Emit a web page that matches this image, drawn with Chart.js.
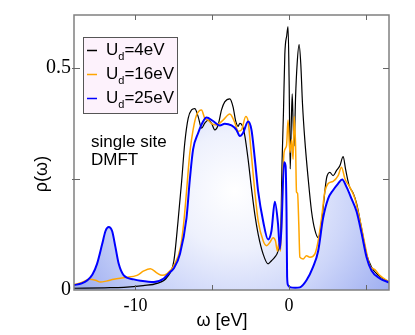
<!DOCTYPE html>
<html>
<head>
<meta charset="utf-8">
<script src="https://cdn.jsdelivr.net/npm/chart.js@4.4.0/dist/chart.umd.min.js"></script>
<style>
html,body{margin:0;padding:0;background:#fff;}
#wrap{width:415px;height:335px;position:relative;}
</style>
</head>
<body>
<div id="wrap"><canvas id="c" width="415" height="335"></canvas></div>
<script>
// ---- data ----
const seriesLabels = ["U_d=4eV", "U_d=16eV", "U_d=25eV"];
const xTickValues = [-10, -5, 0, 5];
const xTickLabels = ["-10", "", "0", ""];
const yTickValues = [0, 0.25, 0.5];
const yTickLabels = ["0", "", "0.5"];

const omegaBlack = [-14.0,-12.0,-10.76,-9.5,-8.59,-7.94,-7.5,-7.23,-7.0,-6.79,-6.57,-6.35,-6.14,-5.92,-5.7,-5.49,-5.27,-5.05,-4.84,-4.62,-4.4,-4.19,-3.86,-3.65,-3.47,-3.32,-3.21,-3.03,-2.88,-2.67,-2.45,-2.23,-2.01,-1.69,-1.37,-1.15,-0.93,-0.72,-0.54,-0.46,-0.37,-0.28,-0.15,-0.07,0.0,0.07,0.11,0.2,0.26,0.33,0.42,0.52,0.65,0.76,0.87,1.02,1.24,1.46,1.67,1.89,2.04,2.21,2.43,2.65,2.86,3.08,3.3,3.52,3.67,3.9,4.17,4.39,4.71,5.04,5.36,5.8,6.5];
const rhoBlack   = [0.004,0.005,0.006,0.01,0.015,0.029,0.066,0.155,0.243,0.332,0.387,0.406,0.409,0.391,0.365,0.376,0.383,0.376,0.361,0.372,0.406,0.424,0.431,0.413,0.38,0.369,0.376,0.369,0.347,0.295,0.229,0.17,0.125,0.081,0.059,0.066,0.074,0.088,0.14,0.288,0.398,0.531,0.575,0.594,0.472,0.273,0.325,0.442,0.376,0.325,0.435,0.509,0.553,0.509,0.42,0.339,0.251,0.177,0.136,0.118,0.133,0.184,0.251,0.265,0.258,0.269,0.28,0.301,0.273,0.236,0.218,0.195,0.14,0.081,0.052,0.033,0.018];

const omegaOrange = [-14.0,-13.5,-13.0,-12.6,-12.28,-11.9,-11.41,-10.65,-9.9,-9.46,-9.03,-8.59,-8.27,-7.94,-7.5,-7.07,-6.86,-6.68,-6.46,-6.25,-6.03,-5.7,-5.49,-5.27,-5.05,-4.73,-4.3,-3.86,-3.54,-3.32,-3.1,-2.82,-2.67,-2.45,-2.23,-2.01,-1.69,-1.47,-1.26,-1.04,-0.89,-0.76,-0.67,-0.56,-0.46,-0.33,-0.17,-0.07,0.05,0.16,0.26,0.33,0.42,0.48,0.55,0.63,0.7,0.91,1.13,1.35,1.67,1.89,2.11,2.32,2.54,2.86,3.19,3.41,3.63,3.95,4.28,4.6,4.93,5.25,5.58,5.9,6.5];
const rhoOrange   = [0.012,0.017,0.024,0.022,0.018,0.02,0.024,0.028,0.033,0.043,0.048,0.038,0.033,0.037,0.055,0.096,0.151,0.221,0.31,0.361,0.394,0.406,0.387,0.383,0.375,0.372,0.383,0.397,0.378,0.358,0.361,0.391,0.38,0.302,0.221,0.155,0.111,0.1,0.107,0.118,0.111,0.088,0.104,0.088,0.192,0.31,0.325,0.383,0.31,0.339,0.295,0.391,0.325,0.221,0.218,0.148,0.074,0.07,0.077,0.074,0.081,0.111,0.162,0.221,0.24,0.245,0.258,0.277,0.251,0.232,0.206,0.159,0.103,0.055,0.046,0.033,0.018];

const omegaBlue = [-14.0,-13.5,-13.13,-12.8,-12.5,-12.17,-11.95,-11.74,-11.52,-11.3,-11.09,-10.76,-10.11,-9.67,-8.8,-8.16,-7.76,-7.5,-7.1,-6.68,-6.46,-6.25,-5.92,-5.6,-5.38,-4.95,-4.51,-4.19,-3.75,-3.43,-3.21,-3.0,-2.67,-2.45,-2.23,-2.01,-1.69,-1.37,-1.15,-0.93,-0.72,-0.6,-0.5,-0.33,-0.23,-0.17,-0.13,-0.07,0.1,0.4,0.7,1.13,1.56,1.89,2.21,2.54,2.86,3.19,3.45,3.74,4.06,4.39,4.71,5.04,5.36,5.9,6.5];
const rhoBlue   = [0.011,0.015,0.022,0.035,0.059,0.103,0.133,0.142,0.133,0.096,0.059,0.033,0.024,0.021,0.018,0.026,0.04,0.049,0.082,0.162,0.25,0.317,0.354,0.38,0.389,0.381,0.371,0.375,0.371,0.361,0.347,0.354,0.38,0.361,0.295,0.221,0.155,0.114,0.133,0.199,0.148,0.092,0.14,0.288,0.28,0.177,0.03,0.011,0.006,0.005,0.006,0.022,0.052,0.088,0.162,0.206,0.225,0.24,0.249,0.232,0.206,0.177,0.129,0.074,0.044,0.026,0.017];

const seriesColors = ["#000000", "#ffa500", "#0000ff"];

function pts(xs, ys){ return xs.map((x,i)=>({x:x, y:ys[i]})); }

function fillGradient(context){
  const chart = context.chart;
  const ca = chart.chartArea;
  if(!ca) return "rgba(160,176,240,0.6)";
  const cx = ca.left + (ca.right-ca.left)*0.51;
  const cy = ca.top + (ca.bottom-ca.top)*0.64;
  const g = chart.ctx.createRadialGradient(cx, cy, 0, cx, cy, 195);
  g.addColorStop(0, "#ffffff");
  g.addColorStop(0.3, "#eef1fd");
  g.addColorStop(0.6, "#ccd5f9");
  g.addColorStop(0.85, "#aab8f3");
  g.addColorStop(1, "#97a9f0");
  return g;
}

const framePlugin = {
  id: "frame",
  afterDraw(chart){
    const ctx = chart.ctx, ca = chart.chartArea;
    const xs = chart.scales.x, ys = chart.scales.y;
    ctx.save();
    ctx.strokeStyle = "#808080";
    ctx.lineWidth = 1.5;
    ctx.strokeRect(ca.left, ca.top, ca.right-ca.left, ca.bottom-ca.top);
    ctx.lineWidth = 1;
    ctx.strokeStyle = "#666";
    ctx.beginPath();
    xTickValues.forEach(v=>{
      const px = Math.round(xs.getPixelForValue(v))+0.5;
      ctx.moveTo(px, ca.bottom); ctx.lineTo(px, ca.bottom-5);
      ctx.moveTo(px, ca.top); ctx.lineTo(px, ca.top+5);
    });
    yTickValues.forEach(v=>{
      if(v===0) return;
      const py = Math.round(ys.getPixelForValue(v))+0.5;
      ctx.moveTo(ca.left-2, py); ctx.lineTo(ca.left+6, py);
      ctx.moveTo(ca.right, py); ctx.lineTo(ca.right-6, py);
    });
    ctx.stroke();

    // legend box
    const bx=83, by=37, bw=94, bh=76;
    ctx.fillStyle = "#fdf2fc";
    ctx.fillRect(bx, by, bw, bh);
    ctx.strokeStyle = "#555";
    ctx.lineWidth = 1;
    ctx.strokeRect(bx+0.5, by+0.5, bw, bh);
    const rows = [55, 79, 103];
    seriesLabels.forEach((lab,i)=>{
      const base = rows[i];
      ctx.strokeStyle = seriesColors[i];
      ctx.lineWidth = 1.5;
      ctx.beginPath();
      ctx.moveTo(87, base-4.5); ctx.lineTo(97, base-4.5);
      ctx.stroke();
      const parts = lab.split("_");
      const main = parts[0];
      const sub = parts[1].charAt(0);
      const rest = parts[1].slice(1);
      ctx.fillStyle = "#000";
      ctx.textAlign = "left";
      ctx.textBaseline = "alphabetic";
      ctx.font = "17px 'Liberation Sans', Arial, sans-serif";
      let x = 106;
      ctx.fillText(main, x, base);
      x += ctx.measureText(main).width;
      ctx.font = "11px 'Liberation Sans', Arial, sans-serif";
      ctx.fillText(sub, x, base+5);
      x += ctx.measureText(sub).width;
      ctx.font = "17px 'Liberation Sans', Arial, sans-serif";
      ctx.fillText(rest, x, base);
    });

    // annotation
    ctx.fillStyle = "#000";
    ctx.font = "17px 'Liberation Sans', Arial, sans-serif";
    ctx.fillText("single site", 91, 147);
    ctx.fillText("DMFT", 91, 165);

    // axis titles
    ctx.font = "18px 'Liberation Sans', Arial, sans-serif";
    ctx.textAlign = "center";
    ctx.fillText("ω [eV]", 222, 326);
    ctx.save();
    ctx.translate(47, 174);
    ctx.rotate(-Math.PI/2);
    ctx.fillText("ρ(ω)", 0, 0);
    ctx.restore();
    ctx.restore();
  }
};

new Chart(document.getElementById("c"), {
  type: "line",
  data: {
    datasets: [
      { label: seriesLabels[2], data: pts(omegaBlue, rhoBlue), borderColor: seriesColors[2], borderWidth: 2, fill: "origin", backgroundColor: fillGradient, order: 0 },
      { label: seriesLabels[1], data: pts(omegaOrange, rhoOrange), borderColor: seriesColors[1], borderWidth: 1.5, fill: false, order: 1 },
      { label: seriesLabels[0], data: pts(omegaBlack, rhoBlack), borderColor: seriesColors[0], borderWidth: 1.2, fill: false, order: 2 }
    ]
  },
  options: {
    responsive: false,
    animation: false,
    devicePixelRatio: 1,
    layout: { padding: { left: 0, top: 10, right: 26, bottom: 0 } },
    elements: { point: { radius: 0 }, line: { cubicInterpolationMode: "monotone" } },
    plugins: {
      legend: { display: false },
      tooltip: { enabled: false },
      filler: { drawTime: "beforeDatasetsDraw" }
    },
    scales: {
      x: {
        type: "linear", min: -14, max: 6.5,
        grid: { display: false, drawTicks: false },
        border: { display: false },
        afterFit(s){ s.height = 45; },
        afterBuildTicks(s){ s.ticks = xTickValues.map(v=>({value:v})); },
        ticks: {
          padding: 5, maxRotation: 0, autoSkip: false,
          color: "#000",
          font: { family: "'Liberation Serif', 'Times New Roman', serif", size: 18 },
          callback(v){ const i = xTickValues.indexOf(v); return i>=0 ? xTickLabels[i] : ""; }
        }
      },
      y: {
        type: "linear", min: 0, max: 0.62,
        grid: { display: false, drawTicks: false },
        border: { display: false },
        afterFit(s){ s.width = 74; },
        afterBuildTicks(s){ s.ticks = yTickValues.map(v=>({value:v})); },
        ticks: {
          padding: 3, autoSkip: false,
          color: "#000",
          font: { family: "'Liberation Serif', 'Times New Roman', serif", size: 20 },
          callback(v){ const i = yTickValues.indexOf(v); return i>=0 ? yTickLabels[i] : ""; }
        }
      }
    }
  },
  plugins: [framePlugin]
});
</script>
</body>
</html>
